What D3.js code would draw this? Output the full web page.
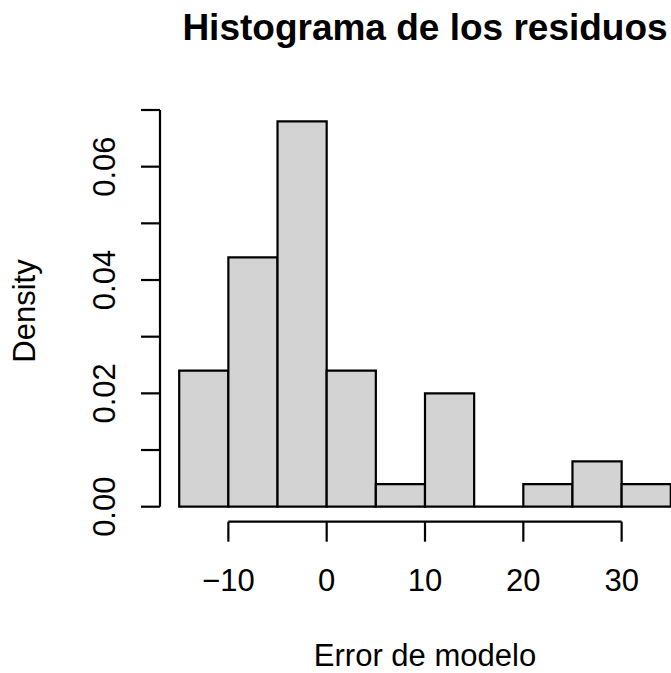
<!DOCTYPE html>
<html lang="es">
<head>
<meta charset="utf-8">
<script src="https://d3js.org/d3.v7.min.js"></script>
<style>
  html, body { margin: 0; padding: 0; background: #fff; }
  svg text { font-family: "Liberation Sans", Arial, Helvetica, sans-serif; fill: #000; }
</style>
</head>
<body>
<svg id="hist" width="671" height="673"></svg>
<script>
    // bins of the histogram (breaks) and their densities
    const breaks = [-15, -10, -5, 0, 5, 10, 15, 20, 25, 30, 35];
    const density = [0.024, 0.044, 0.068, 0.024, 0.004, 0.020, 0.000, 0.004, 0.008, 0.004];

    const xTicks = [-10, 0, 10, 20, 30];
    const yTicks = [0, 0.01, 0.02, 0.03, 0.04, 0.05, 0.06, 0.07];
    const yLabels = [0, 0.02, 0.04, 0.06];

    const titleText = "Histograma de los residuos";
    const xTitle = "Error de modelo";
    const yTitle = "Density";

    const svg = d3.select("#hist");

    // plot area (R style: axes 4% outside data range)
    const x = d3.scaleLinear().domain([-15, 35]).range([179.2, 670.8]);
    const y = d3.scaleLinear().domain([0, 0.07]).range([506.7, 110]);

    const bins = density.map((d, i) => ({ x0: breaks[i], x1: breaks[i + 1], d: d }));

    // drawn as closed paths so that an empty bin still shows its outline
    svg.append("g").selectAll("path")
        .data(bins)
        .join("path")
        .attr("d", b => {
            const p = d3.path();
            p.moveTo(x(b.x0), y(0));
            p.lineTo(x(b.x0), y(b.d));
            p.lineTo(x(b.x1), y(b.d));
            p.lineTo(x(b.x1), y(0));
            p.closePath();
            return p.toString();
        })
        .attr("fill", "#d3d3d3")
        .attr("stroke", "#000")
        .attr("stroke-width", 2.2);

    // x axis
    const xAxisY = 521.7;
    const gx = svg.append("g").attr("stroke", "#000").attr("stroke-width", 2.2).attr("fill", "none");
    gx.append("line")
        .attr("x1", x(xTicks[0])).attr("x2", x(xTicks[xTicks.length - 1]))
        .attr("y1", xAxisY).attr("y2", xAxisY);
    gx.selectAll(".tk").data(xTicks).join("line")
        .attr("x1", d => x(d)).attr("x2", d => x(d))
        .attr("y1", xAxisY).attr("y2", xAxisY + 20);
    svg.append("g").selectAll("text").data(xTicks).join("text")
        .attr("x", d => x(d))
        .attr("y", 591)
        .attr("text-anchor", "middle")
        .style("font-size", "31px")
        .text(d => d < 0 ? "\u2212" + Math.abs(d) : d);

    // y axis
    const yAxisX = 160;
    const gy = svg.append("g").attr("stroke", "#000").attr("stroke-width", 2.2).attr("fill", "none");
    gy.append("line")
        .attr("x1", yAxisX).attr("x2", yAxisX)
        .attr("y1", y(yTicks[0])).attr("y2", y(yTicks[yTicks.length - 1]));
    gy.selectAll(".tk").data(yTicks).join("line")
        .attr("x1", yAxisX - 19).attr("x2", yAxisX)
        .attr("y1", d => y(d)).attr("y2", d => y(d));
    svg.append("g").selectAll("text").data(yLabels).join("text")
        .attr("transform", d => "translate(115," + y(d) + ") rotate(-90)")
        .attr("text-anchor", "middle")
        .style("font-size", "31px")
        .text(d => d3.format(".2f")(d));

    // titles
    svg.append("text")
        .attr("x", 425).attr("y", 40)
        .attr("text-anchor", "middle")
        .style("font-size", "37px").style("font-weight", "bold")
        .text(titleText);
    svg.append("text")
        .attr("x", 425).attr("y", 666)
        .attr("text-anchor", "middle")
        .style("font-size", "31px")
        .text(xTitle);
    svg.append("text")
        .attr("transform", "translate(35,311) rotate(-90)")
        .attr("text-anchor", "middle")
        .style("font-size", "31px")
        .text(yTitle);
</script>
</body>
</html>
